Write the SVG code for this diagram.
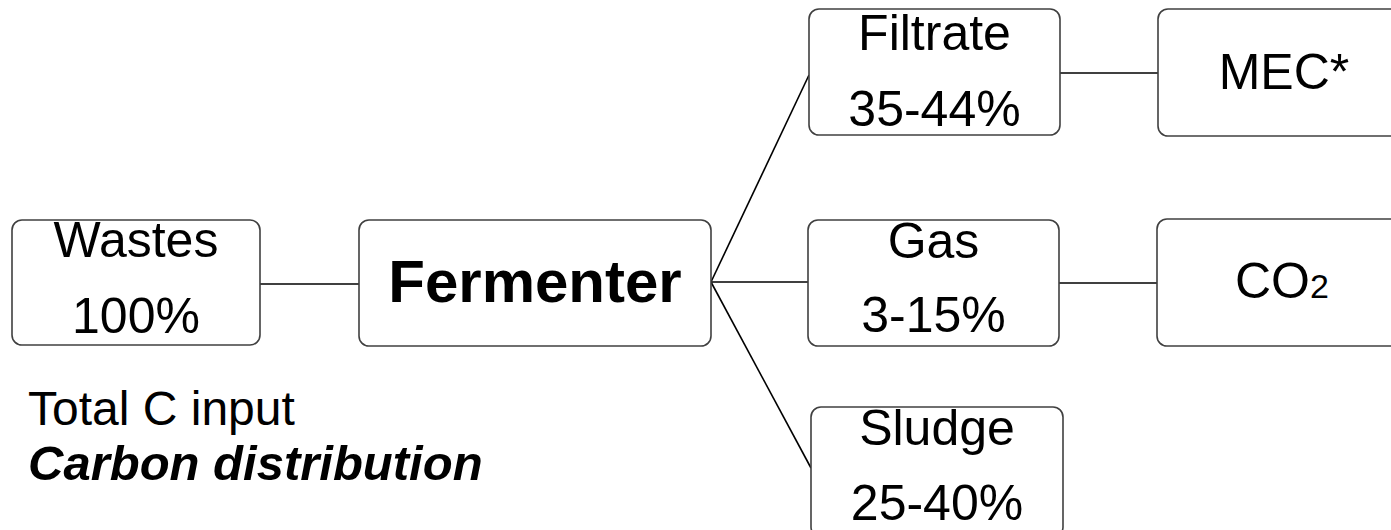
<svg xmlns="http://www.w3.org/2000/svg" width="1391" height="530" viewBox="0 0 1391 530">
<style>
.box{fill:#fff;stroke:#404040;stroke-width:1.6}
.t{font-family:"Liberation Sans",Arial,sans-serif;font-size:50px;fill:#000;text-anchor:middle}
.conn line{stroke:#000;stroke-width:1.6}
</style>
<rect width="1391" height="530" fill="#fff"/>
<g id="connectors" class="conn">
<line x1="260" y1="284" x2="359" y2="284"/>
<line x1="711" y1="282" x2="809" y2="75"/>
<line x1="711" y1="282" x2="808" y2="282"/>
<line x1="711" y1="282" x2="811" y2="468"/>
<line x1="1060" y1="73" x2="1158" y2="73"/>
<line x1="1059" y1="283" x2="1157" y2="283"/>
</g>
<g id="wastes">
<rect class="box" x="12" y="220" width="248" height="125" rx="10"/>
<text class="t" x="136" y="257">Wastes</text>
<text class="t" x="136" y="333">100%</text>
</g>
<g id="fermenter">
<rect class="box" x="359" y="220" width="352" height="126" rx="10"/>
<text class="t" x="535" y="302" style="font-weight:bold;font-size:60px">Fermenter</text>
</g>
<g id="filtrate">
<rect class="box" x="809" y="9" width="251" height="126" rx="10"/>
<text class="t" x="934.5" y="50">Filtrate</text>
<text class="t" x="934.5" y="126">35-44%</text>
</g>
<g id="gas">
<rect class="box" x="808" y="220" width="251" height="126" rx="10"/>
<text class="t" x="933.5" y="258">Gas</text>
<text class="t" x="933.5" y="332">3-15%</text>
</g>
<g id="sludge">
<rect class="box" x="811" y="407" width="252" height="130" rx="10"/>
<text class="t" x="937" y="445">Sludge</text>
<text class="t" x="937" y="520">25-40%</text>
</g>
<g id="mec">
<rect class="box" x="1158" y="9" width="260" height="127" rx="10"/>
<text class="t" x="1284" y="89">MEC*</text>
</g>
<g id="co2">
<rect class="box" x="1157" y="219" width="260" height="127" rx="10"/>
<text class="t" x="1235" y="298" style="text-anchor:start">CO<tspan style="font-size:34px">2</tspan></text>
</g>
<g id="labels">
<text class="t" x="28" y="425" style="text-anchor:start;font-size:48px">Total C input</text>
<text class="t" x="28" y="480" style="text-anchor:start;font-size:49px;font-weight:bold;font-style:italic">Carbon distribution</text>
</g>
</svg>
